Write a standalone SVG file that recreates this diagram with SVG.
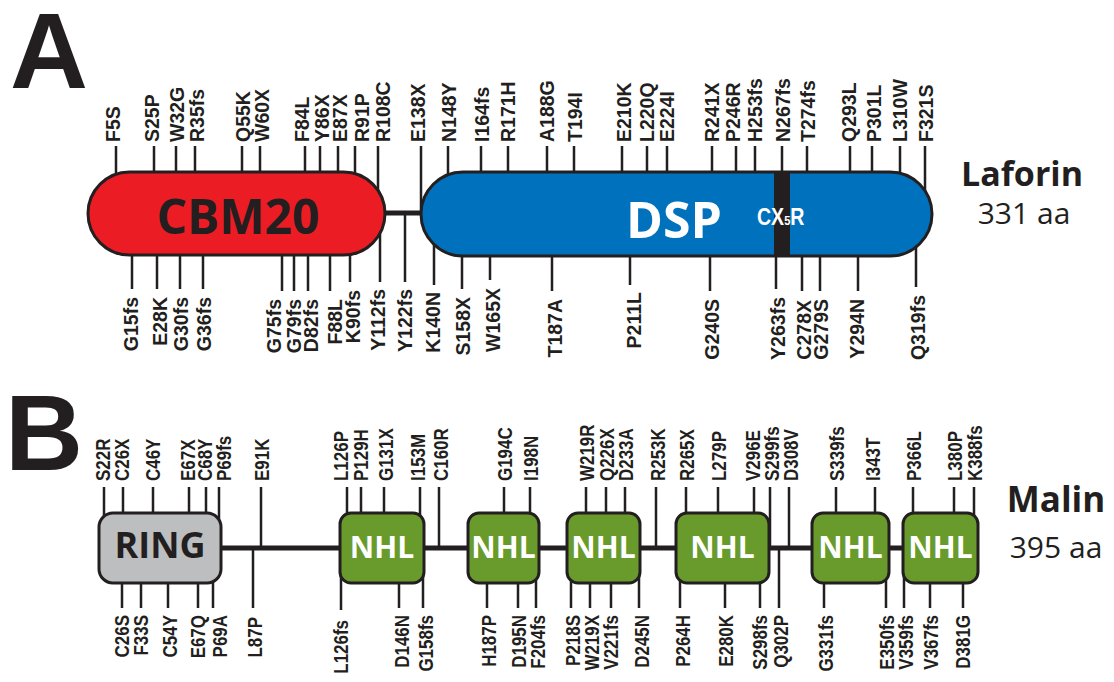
<svg xmlns="http://www.w3.org/2000/svg" width="1114" height="682" viewBox="0 0 1114 682">
<style>
.m{font-family:"Liberation Sans",Arial,sans-serif;font-weight:bold;fill:#231f20;font-size:19.5px}
.e{text-anchor:end}
.tk{stroke:#231f20;stroke-width:2.5;fill:none}
.bar{stroke:#231f20;stroke-width:5}
.dom{stroke:#231f20;stroke-width:3}
.big{font-family:"Liberation Sans",Arial,sans-serif;font-weight:bold;font-size:108px;fill:#231f20}
.dt{font-family:"Open Sans","Liberation Sans",sans-serif;font-weight:bold;text-anchor:middle}
.pn{font-family:"Open Sans","Liberation Sans",sans-serif;fill:#231f20;text-anchor:middle}
</style>
<rect width="1114" height="682" fill="#fff"/>
<text class="big" x="10" y="88">A</text>
<text class="big" x="5" y="470">B</text>

<g id="connectors">
<!-- Laforin ticks top -->
<path class="tk" d="M116 146V213M154 146V213M176 146V213M195 146V213M242 146V213M260 146V213M305 146V213M320 146V213M338 146V213M355 146V213M378 146V213M421 146V213M448 146V213M481 146V213M508 146V213M547 146V213M574 146V213M622 146V213M647 146V213M667 146V213M712 146V213M736 146V213M755 146V213M782 146V213M807 146V213M850 146V213M872 146V213M900 146V213M925 146V213"/>
<!-- Laforin ticks bottom -->
<path class="tk" d="M132 213V289M157 213V289M180 213V289M203 213V289M282 213V291M294 213V291M308 213V291M330 213V291M350 213V282M380 213V282M405 213V282M434 213V285M462 213V289M490 213V280M552 213V291M630 213V285M710 213V291M776 213V289M802 213V291M820 213V291M858 213V291M916 213V287"/>
<line class="bar" x1="383" y1="213" x2="424" y2="213"/>
<!-- Malin ticks top -->
<path class="tk" d="M104 487V548M123 487V548M153 487V548M189 487V548M206 487V548M219 487V548M261 487V548M347 487V548M361 487V548M384 487V548M420 487V548M439 487V548M504 487V548M530 487V548M586 487V548M606 487V548M625 487V548M656 487V548M686 487V548M718 487V548M754 487V548M770 487V548M789 487V548M836 487V548M875 487V548M913 487V548M954 487V548M974 487V548"/>
<!-- Malin ticks bottom -->
<path class="tk" d="M122 548V608M141 548V608M168 548V608M198 548V608M213 548V608M253 548V608M341 575V610M399 548V608M423 548V608M487 548V608M518 548V608M536 548V608M571 548V608M590 548V608M611 548V608M639 548V608M680 548V608M725 548V608M760 548V608M779 548V608M824 548V608M886 548V608M904 548V608M930 548V608M963 548V608"/>
<line class="bar" x1="220" y1="548" x2="905" y2="548"/>
</g>

<g id="cbm20">
<rect class="dom" x="88" y="172" width="297" height="83" rx="41.5" fill="#ec1c24"/>
<text class="dt" x="238" y="234" font-size="48" fill="#231f20">CBM20</text>
</g>
<g id="dsp">
<rect class="dom" x="421" y="172" width="511" height="84" rx="42" fill="#0071bc"/>
<rect x="774" y="171" width="16" height="86" fill="#231f20"/>
<text class="dt" x="674" y="238" font-size="50" fill="#fff">DSP</text>
<text x="0" y="0" transform="translate(757 225) scale(0.85 1)" font-family="Liberation Sans,Arial,sans-serif" font-weight="bold" font-size="23" fill="#fff">CX<tspan font-size="13">5</tspan>R</text>
</g>
<g id="laforin-label">
<text class="pn" x="1022" y="186" font-size="34" font-weight="bold">Laforin</text>
<text class="pn" x="1024" y="224" font-size="30">331 aa</text>
</g>

<g id="ring">
<rect class="dom" x="99" y="513" width="122" height="70" rx="14" fill="#bcbec0"/>
<text class="dt" x="160" y="558" font-size="36" fill="#231f20">RING</text>
</g>
<g id="nhl1"><rect class="dom" x="340" y="513" width="84" height="70" rx="11" fill="#699b2c"/><text class="dt" x="382" y="558" font-size="30" fill="#fff">NHL</text></g>
<g id="nhl2"><rect class="dom" x="468" y="513" width="71" height="70" rx="11" fill="#699b2c"/><text class="dt" x="503.5" y="558" font-size="30" fill="#fff">NHL</text></g>
<g id="nhl3"><rect class="dom" x="567" y="513" width="73" height="70" rx="11" fill="#699b2c"/><text class="dt" x="603.5" y="558" font-size="30" fill="#fff">NHL</text></g>
<g id="nhl4"><rect class="dom" x="676" y="513" width="93" height="70" rx="11" fill="#699b2c"/><text class="dt" x="722.5" y="558" font-size="30" fill="#fff">NHL</text></g>
<g id="nhl5"><rect class="dom" x="812" y="513" width="77" height="70" rx="11" fill="#699b2c"/><text class="dt" x="850.5" y="558" font-size="30" fill="#fff">NHL</text></g>
<g id="nhl6"><rect class="dom" x="903" y="513" width="75" height="70" rx="11" fill="#699b2c"/><text class="dt" x="940.5" y="558" font-size="30" fill="#fff">NHL</text></g>
<g id="malin-label">
<text class="pn" x="1056" y="512" font-size="35" font-weight="bold">Malin</text>
<text class="pn" x="1056" y="558" font-size="30">395 aa</text>
</g>

<g id="laforin-mutations">
<text class="m" transform="matrix(0,-1,1,0,120,142)">F5S</text>
<text class="m" transform="matrix(0,-1,1,0,159,142)">S25P</text>
<text class="m" transform="matrix(0,-1,1,0,184,142)">W32G</text>
<text class="m" transform="matrix(0,-1,1,0,204,142)">R35fs</text>
<text class="m" transform="matrix(0,-1,1,0,250,142)">Q55K</text>
<text class="m" transform="matrix(0,-1,1,0,269,142)">W60X</text>
<text class="m" transform="matrix(0,-1,1,0,309,142)">F84L</text>
<text class="m" transform="matrix(0,-1,1,0,329,142)">Y86X</text>
<text class="m" transform="matrix(0,-1,1,0,347,142)">E87X</text>
<text class="m" transform="matrix(0,-1,1,0,369,142)">R91P</text>
<text class="m" transform="matrix(0,-1,1,0,390,142)">R108C</text>
<text class="m" transform="matrix(0,-1,1,0,425,142)">E138X</text>
<text class="m" transform="matrix(0,-1,1,0,456,142)">N148Y</text>
<text class="m" transform="matrix(0,-1,1,0,489,142)">I164fs</text>
<text class="m" transform="matrix(0,-1,1,0,515,142)">R171H</text>
<text class="m" transform="matrix(0,-1,1,0,554,142)">A188G</text>
<text class="m" transform="matrix(0,-1,1,0,582,142)">T194I</text>
<text class="m" transform="matrix(0,-1,1,0,631,142)">E210K</text>
<text class="m" transform="matrix(0,-1,1,0,654,142)">L220Q</text>
<text class="m" transform="matrix(0,-1,1,0,674,142)">E224I</text>
<text class="m" transform="matrix(0,-1,1,0,719,142)">R241X</text>
<text class="m" transform="matrix(0,-1,1,0,740,142)">P246R</text>
<text class="m" transform="matrix(0,-1,1,0,762,142)">H253fs</text>
<text class="m" transform="matrix(0,-1,1,0,790,142)">N267fs</text>
<text class="m" transform="matrix(0,-1,1,0,815,142)">T274fs</text>
<text class="m" transform="matrix(0,-1,1,0,856,142)">Q293L</text>
<text class="m" transform="matrix(0,-1,1,0,881,142)">P301L</text>
<text class="m" transform="matrix(0,-1,1,0,907,142)">L310W</text>
<text class="m" transform="matrix(0,-1,1,0,933,142)">F321S</text>

<text class="m e" transform="matrix(0,-1,1,0,138,297)">G15fs</text>
<text class="m e" transform="matrix(0,-1,1,0,167,297)">E28K</text>
<text class="m e" transform="matrix(0,-1,1,0,188,297)">G30fs</text>
<text class="m e" transform="matrix(0,-1,1,0,211,297)">G36fs</text>
<text class="m e" transform="matrix(0,-1,1,0,281,299)">G75fs</text>
<text class="m e" transform="matrix(0,-1,1,0,301,299)">G79fs</text>
<text class="m e" transform="matrix(0,-1,1,0,318,299)">D82fs</text>
<text class="m e" transform="matrix(0,-1,1,0,342,299)">F88L</text>
<text class="m e" transform="matrix(0,-1,1,0,360,290)">K90fs</text>
<text class="m e" transform="matrix(0,-1,1,0,385,289)">Y112fs</text>
<text class="m e" transform="matrix(0,-1,1,0,412,289)">Y122fs</text>
<text class="m e" transform="matrix(0,-1,1,0,440,292)">K140N</text>
<text class="m e" transform="matrix(0,-1,1,0,470,297)">S158X</text>
<text class="m e" transform="matrix(0,-1,1,0,500,288)">W165X</text>
<text class="m e" transform="matrix(0,-1,1,0,562,299)">T187A</text>
<text class="m e" transform="matrix(0,-1,1,0,641,292)">P211L</text>
<text class="m e" transform="matrix(0,-1,1,0,719,299)">G240S</text>
<text class="m e" transform="matrix(0,-1,1,0,785,297)">Y263fs</text>
<text class="m e" transform="matrix(0,-1,1,0,811,300)">C278X</text>
<text class="m e" transform="matrix(0,-1,1,0,828,299)">G279S</text>
<text class="m e" transform="matrix(0,-1,1,0,864,299)">Y294N</text>
<text class="m e" transform="matrix(0,-1,1,0,925,295)">Q319fs</text>
</g>

<g id="malin-mutations">
<text class="m" transform="matrix(0,-0.87,1,0,110,481)">S22R</text>
<text class="m" transform="matrix(0,-0.87,1,0,129,481)">C26X</text>
<text class="m" transform="matrix(0,-0.87,1,0,160,481)">C46Y</text>
<text class="m" transform="matrix(0,-0.87,1,0,195,481)">E67X</text>
<text class="m" transform="matrix(0,-0.87,1,0,212,481)">C68Y</text>
<text class="m" transform="matrix(0,-0.87,1,0,231,481)">P69fs</text>
<text class="m" transform="matrix(0,-0.87,1,0,269,481)">E91K</text>
<text class="m" transform="matrix(0,-0.87,1,0,348,481)">L126P</text>
<text class="m" transform="matrix(0,-0.87,1,0,368,481)">P129H</text>
<text class="m" transform="matrix(0,-0.87,1,0,393,481)">G131X</text>
<text class="m" transform="matrix(0,-0.87,1,0,425,481)">I153M</text>
<text class="m" transform="matrix(0,-0.87,1,0,448,481)">C160R</text>
<text class="m" transform="matrix(0,-0.87,1,0,512,481)">G194C</text>
<text class="m" transform="matrix(0,-0.87,1,0,538,481)">I198N</text>
<text class="m" transform="matrix(0,-0.87,1,0,594,481)">W219R</text>
<text class="m" transform="matrix(0,-0.87,1,0,614,481)">Q226X</text>
<text class="m" transform="matrix(0,-0.87,1,0,633,481)">D233A</text>
<text class="m" transform="matrix(0,-0.87,1,0,665,481)">R253K</text>
<text class="m" transform="matrix(0,-0.87,1,0,694,481)">R265X</text>
<text class="m" transform="matrix(0,-0.87,1,0,726,481)">L279P</text>
<text class="m" transform="matrix(0,-0.87,1,0,760,481)">V296E</text>
<text class="m" transform="matrix(0,-0.87,1,0,779,481)">S299fs</text>
<text class="m" transform="matrix(0,-0.87,1,0,798,481)">D308V</text>
<text class="m" transform="matrix(0,-0.87,1,0,844,481)">S339fs</text>
<text class="m" transform="matrix(0,-0.87,1,0,880,481)">I343T</text>
<text class="m" transform="matrix(0,-0.87,1,0,921,481)">P366L</text>
<text class="m" transform="matrix(0,-0.87,1,0,962,481)">L380P</text>
<text class="m" transform="matrix(0,-0.87,1,0,982,481)">K388fs</text>

<text class="m e" transform="matrix(0,-0.87,1,0,129,615)">C26S</text>
<text class="m e" transform="matrix(0,-0.87,1,0,148,615)">F33S</text>
<text class="m e" transform="matrix(0,-0.87,1,0,177,615)">C54Y</text>
<text class="m e" transform="matrix(0,-0.87,1,0,205,615)">E67Q</text>
<text class="m e" transform="matrix(0,-0.87,1,0,227,615)">P69A</text>
<text class="m e" transform="matrix(0,-0.87,1,0,262,617)">L87P</text>
<text class="m e" transform="matrix(0,-0.87,1,0,348,620)">L126fs</text>
<text class="m e" transform="matrix(0,-0.87,1,0,409,615)">D146N</text>
<text class="m e" transform="matrix(0,-0.87,1,0,433,615)">G158fs</text>
<text class="m e" transform="matrix(0,-0.87,1,0,496,615)">H187P</text>
<text class="m e" transform="matrix(0,-0.87,1,0,526,615)">D195N</text>
<text class="m e" transform="matrix(0,-0.87,1,0,545,615)">F204fs</text>
<text class="m e" transform="matrix(0,-0.87,1,0,580,615)">P218S</text>
<text class="m e" transform="matrix(0,-0.87,1,0,599,615)">W219X</text>
<text class="m e" transform="matrix(0,-0.87,1,0,618,615)">V221fs</text>
<text class="m e" transform="matrix(0,-0.87,1,0,649,615)">D245N</text>
<text class="m e" transform="matrix(0,-0.87,1,0,690,615)">P264H</text>
<text class="m e" transform="matrix(0,-0.87,1,0,733,615)">E280K</text>
<text class="m e" transform="matrix(0,-0.87,1,0,767,615)">S298fs</text>
<text class="m e" transform="matrix(0,-0.87,1,0,788,615)">Q302P</text>
<text class="m e" transform="matrix(0,-0.87,1,0,833,615)">G331fs</text>
<text class="m e" transform="matrix(0,-0.87,1,0,894,615)">E350fs</text>
<text class="m e" transform="matrix(0,-0.87,1,0,913,615)">V359fs</text>
<text class="m e" transform="matrix(0,-0.87,1,0,938,615)">V367fs</text>
<text class="m e" transform="matrix(0,-0.87,1,0,970,615)">D381G</text>
</g>
</svg>
